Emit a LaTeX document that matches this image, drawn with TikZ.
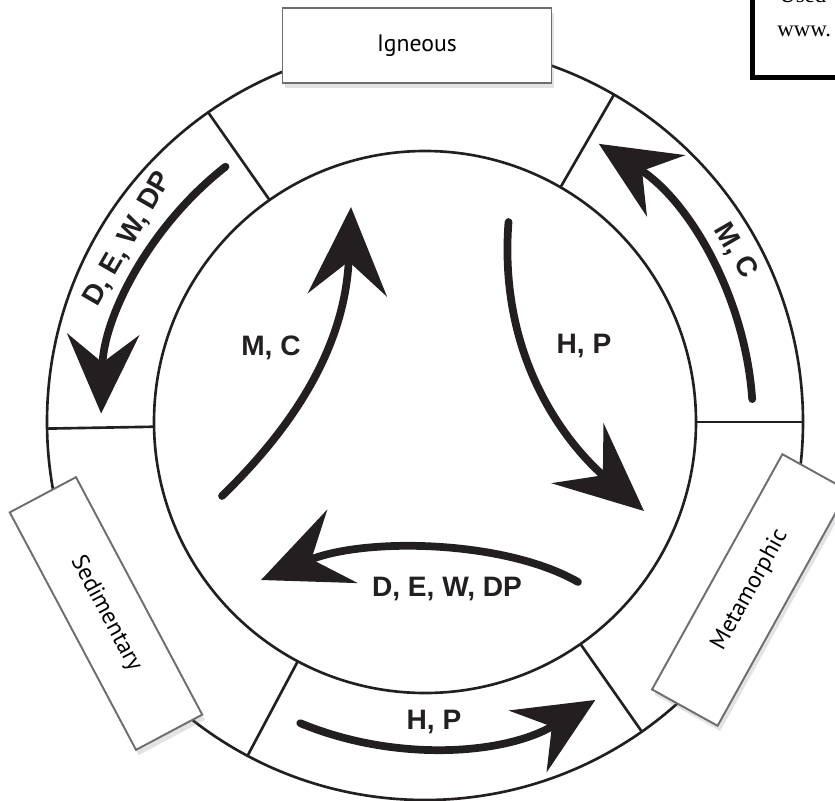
\documentclass[tikz,border=0pt]{standalone}
\usepackage{fontspec}
\setmainfont{Liberation Sans}
\newfontfamily\boxfont{PT Sans}
\newfontfamily\notefont{Liberation Serif}
\usepackage{tikz}
\usetikzlibrary{arrows.meta,shadows}

\definecolor{rockink}{HTML}{231F20}
\definecolor{boxgray}{HTML}{6D6E71}

\tikzset{
  ring/.style={line width=1.5pt, draw=rockink},
  rockbox/.style={draw=boxgray, line width=1.1pt, fill=white, inner sep=0pt,
    minimum width=5.38cm, minimum height=1.5cm,
    font=\boxfont\fontsize{13.5}{15}\selectfont,
    drop shadow={opacity=0.22, shadow xshift=1.5pt, shadow yshift=-3pt}},
  cyclearrow/.style={line width=4.4pt, draw=rockink, line cap=round,
    -{Stealth[length=50pt, width=45pt, inset=19pt]}},
  ringarrow/.style={line width=4.4pt, draw=rockink, line cap=round,
    -{Stealth[length=45pt, width=41pt, inset=16pt]}},
  proc/.style={font=\bfseries\fontsize{16}{18}\selectfont, text=rockink, inner sep=0pt}
}

\begin{document}
\begin{tikzpicture}[x=0.02cm, y=0.02cm]
  \useasboundingbox (0,0) rectangle (835,-801);
  \clip (0,0) rectangle (835,-801);
  \coordinate (O) at (425,-422);

  % Rings
  \draw[ring] (O) circle[radius=378];
  \draw[ring] (O) circle[radius=271];

  % Dividers
  \draw[ring] ([shift={(60:271)}]O) -- ([shift={(60:378)}]O);
  \draw[ring] ([shift={(125:271)}]O) -- ([shift={(125:378)}]O);
  \draw[ring] ([shift={(0:271)}]O) -- ([shift={(0:378)}]O);
  \draw[ring] ([shift={(181:271)}]O) -- ([shift={(181:378)}]O);
  \draw[ring] ([shift={(242:271)}]O) -- ([shift={(242:378)}]O);
  \draw[ring] ([shift={(305:271)}]O) -- ([shift={(305:378)}]O);

  % Rock boxes
  \node[rockbox] (igneous) at (417,-45.5) {Igneous};
  \node[rockbox, rotate=-62] (sedimentary) at (106,-613.5) {Sedimentary};
  \node[rockbox, rotate=61] (metamorphic) at (750,-590) {Metamorphic};

  % Inner cycle
  \draw[cyclearrow] (222,-496) .. controls (290,-430) and (345,-350) .. (351,-207);
  \draw[cyclearrow] (508.5,-222) .. controls (498,-360) and (568,-445) .. (644,-511);
  \draw[cyclearrow] (578,-582) .. controls (505,-540) and (365,-537) .. (261,-580);

  % Outer ring
  \draw[ringarrow] ([shift={(128:324)}]O) arc[start angle=128, end angle=178.5, radius=324];
  \draw[ringarrow] ([shift={(4:328)}]O) arc[start angle=4, end angle=58, radius=328];
  \draw[ringarrow] ([shift={(247.5:326)}]O) arc[start angle=247.5, end angle=301.5, radius=326];

  % Labels
  \node[proc] (mcIn) at (271,-348) {M, C};
  \node[proc] (hpIn) at (584,-346) {H, P};
  \node[proc] (dewdpIn) at (447,-589) {D, E, W, DP};
  \node[proc] (hpOut) at (434,-722) {H, P};
  \node[proc, rotate=-60] (mcOut) at (735,-251) {M, C};
  \node[proc, rotate=60] (dewdpOut) at (128,-239) {D, E, W, DP};

  % Credit box, cut off by the frame
  \draw[line width=2.8pt] (752.5,-77.5) rectangle (900,40);
  \node[anchor=base west, inner sep=0pt, font=\notefont\fontsize{13}{15}\selectfont] (used) at (779,-3) {Used};
  \node[anchor=base west, inner sep=0pt, font=\notefont\fontsize{13}{15}\selectfont] (www) at (777,-36) {www.};
\end{tikzpicture}
\end{document}
